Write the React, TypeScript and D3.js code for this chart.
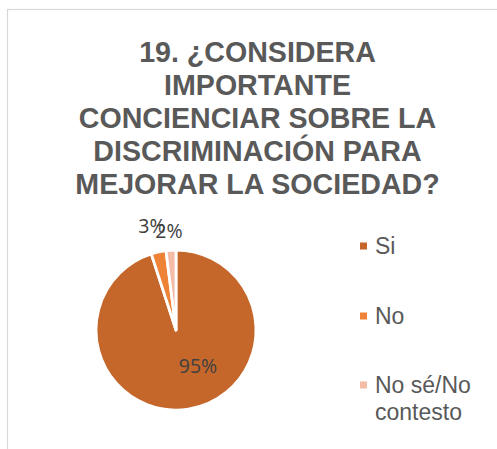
import React from "react";
import * as d3 from "d3";

const categories = ["Si", "No", "No sé/No contesto"];
const values = [95, 3, 2];
const pctLabels = ["95%", "3%", "2%"];
const legendLines = [["Si"], ["No"], ["No sé/No", "contesto"]];
const titleLines = [
  "19. ¿CONSIDERA",
  "IMPORTANTE",
  "CONCIENCIAR SOBRE LA",
  "DISCRIMINACIÓN PARA",
  "MEJORAR LA SOCIEDAD?",
];
const colors = ["#C5672B", "#EE8236", "#F4BBA6"];

const W = 497;
const H = 449;
const cx = 176;
const cy = 330;
const R = 80;

const labelPos = [
  { x: 198, y: 373 },
  { x: 152, y: 233 },
  { x: 169, y: 238 },
];

export default function App() {
  const pie = d3
    .pie<number>()
    .sort(null)
    .value((d) => d)
    .startAngle(0)
    .endAngle(2 * Math.PI);
  const arcs = pie(values);
  const arcGen = d3.arc<d3.PieArcDatum<number>>().innerRadius(0).outerRadius(R);

  return (
    <svg
      width={W}
      height={H}
      style={{ position: "absolute", left: 0, top: 0, background: "#fff" }}
      fontFamily="'Liberation Sans', Arial, sans-serif"
    >
      <rect x={7.5} y={9.5} width={W} height={445} fill="#fff" stroke="#d9d9d9" strokeWidth={1.2} />
      <g>
        {titleLines.map((t, i) => (
          <text
            key={i}
            x={257.5}
            y={62 + i * 33}
            textAnchor="middle"
            fontSize={28.6}
            fontWeight="bold"
            fill="#595959"
          >
            {t}
          </text>
        ))}
      </g>
      <g transform={`translate(${cx},${cy})`}>
        {arcs.map((a, i) => (
          <path key={i} d={arcGen(a) || ""} fill={colors[i]} stroke="#fff" strokeWidth={2.8} strokeLinejoin="round" />
        ))}
      </g>
      <g fontFamily="'Open Sans', sans-serif" fontSize={19.5} fill="#404040">
        {pctLabels.map((l, i) => (
          <text key={i} x={labelPos[i].x} y={labelPos[i].y} textAnchor="middle">
            {l}
          </text>
        ))}
      </g>
      <g>
        {categories.map((c, i) => {
          const y0 = [246, 316, 385][i];
          return (
            <g key={c}>
              <rect x={360} y={y0 - 3.5} width={7} height={7} fill={colors[i]} />
              {legendLines[i].map((ln, j) => (
                <text key={j} x={375} y={y0 + 8 + j * 27} fontSize={23} fill="#595959">
                  {ln}
                </text>
              ))}
            </g>
          );
        })}
      </g>
    </svg>
  );
}
